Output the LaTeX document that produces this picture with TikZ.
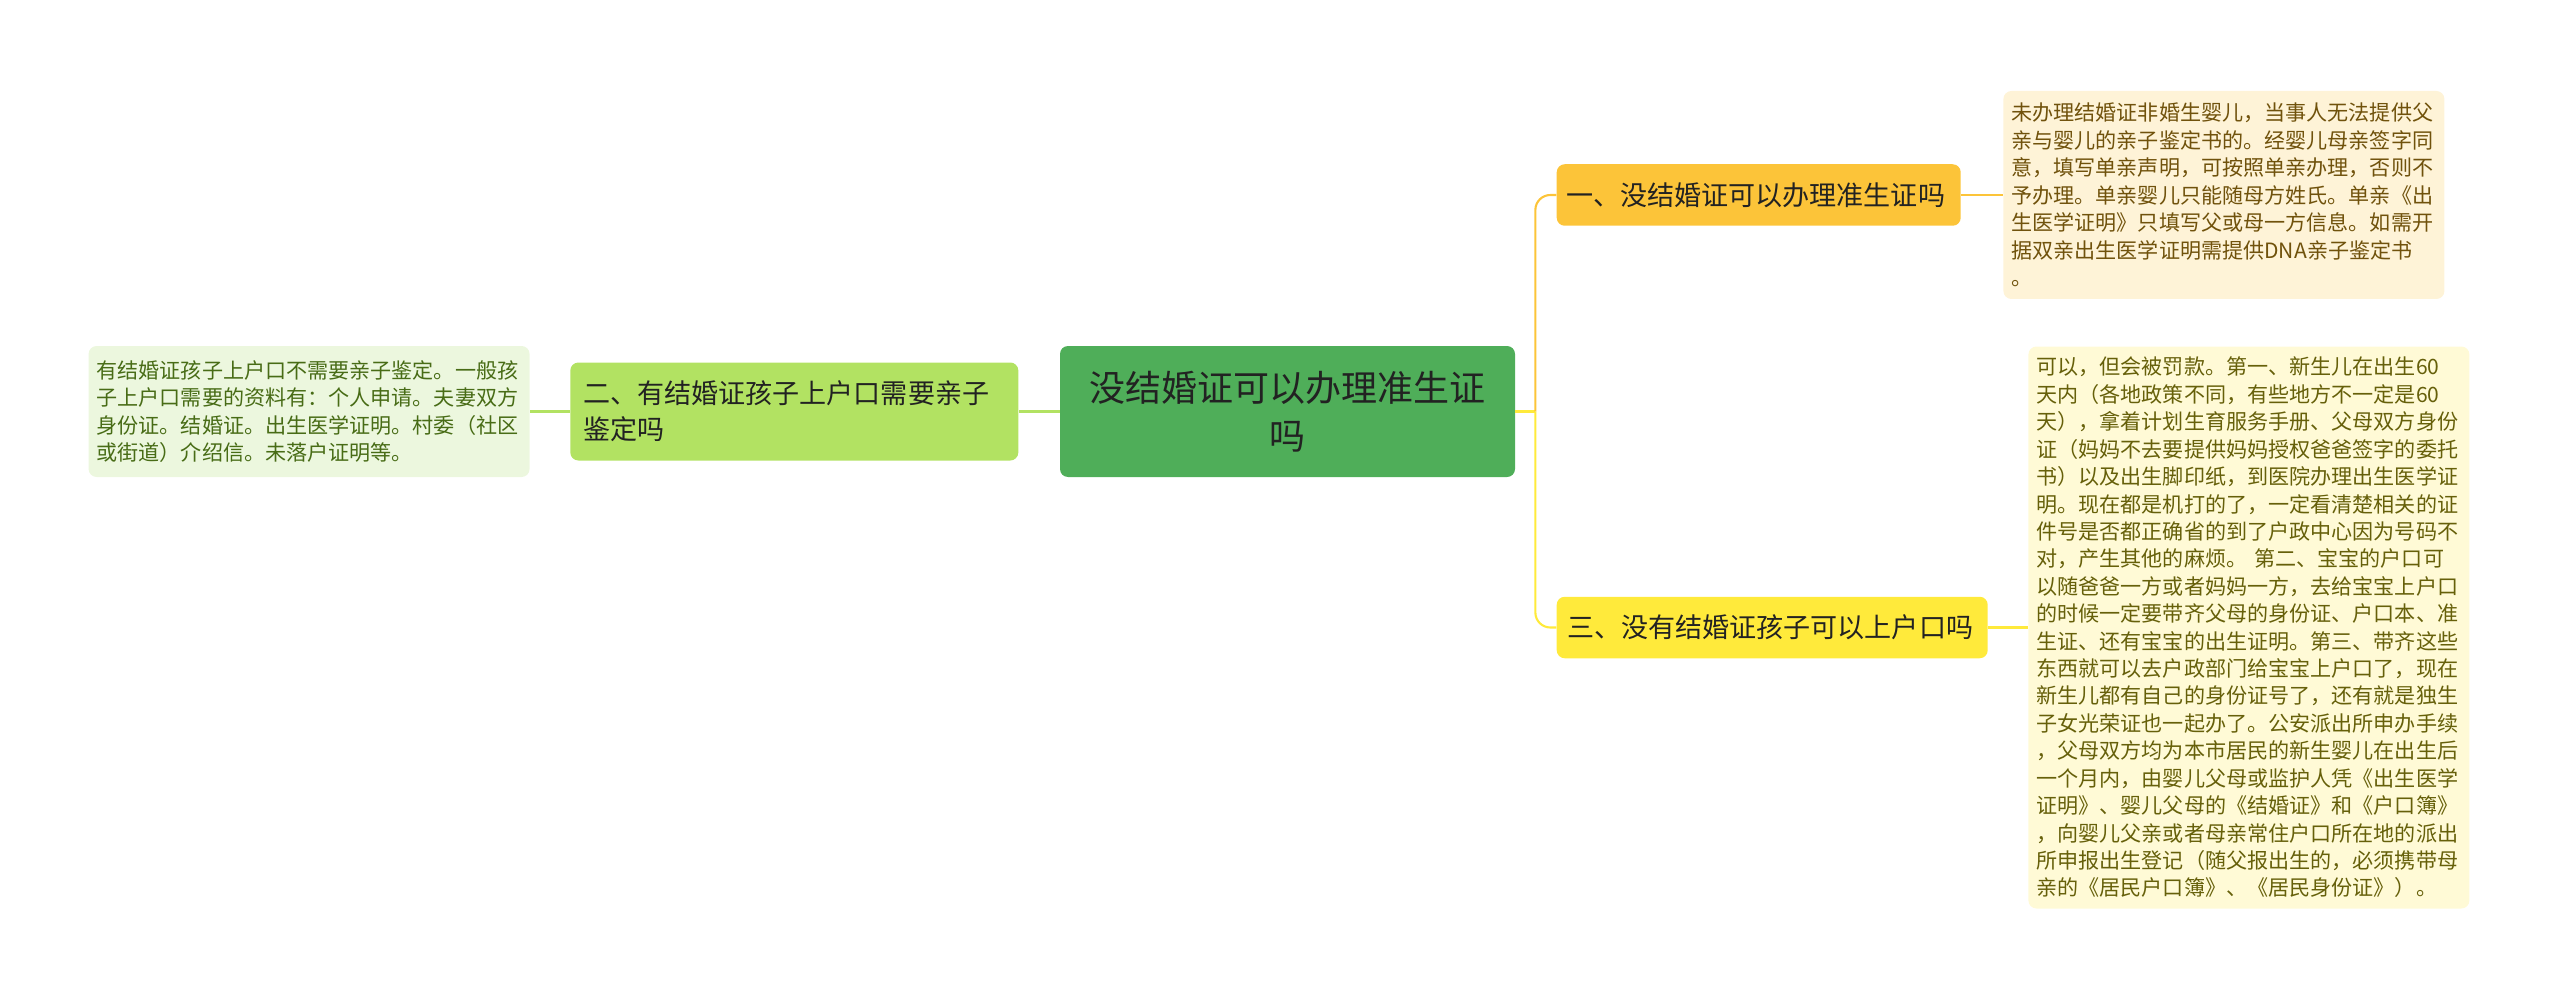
\documentclass[tikz,border=0pt]{standalone}
\usepackage{fontspec}
\setmainfont{Noto Sans CJK SC}
\usetikzlibrary{positioning}
\definecolor{rootgreen}{RGB}{79,174,89}
\definecolor{limegreen}{RGB}{178,226,98}
\definecolor{amber}{RGB}{252,196,57}
\definecolor{lemon}{RGB}{255,234,59}
\definecolor{mintbg}{RGB}{236,247,222}
\definecolor{creambg}{RGB}{254,243,215}
\definecolor{paleyellow}{RGB}{255,250,214}
\definecolor{mossText}{RGB}{72,108,22}
\definecolor{brownText}{RGB}{112,82,12}
\definecolor{oliveText}{RGB}{102,96,10}
\definecolor{darkText}{RGB}{34,34,34}

\begin{document}
\begin{tikzpicture}[
    every node/.style={rounded corners=0.16cm, inner ysep=0.1cm},
    rootbox/.style={fill=rootgreen, text=darkText, align=center, inner xsep=0.2cm, text width=8.7cm, minimum height=2.62cm, font=\fontsize{20.5}{27}\selectfont},
    branchbox/.style={align=left, text=darkText, minimum height=1.23cm, font=\fontsize{15.4}{20.5}\selectfont},
    leafbox/.style={align=left, inner xsep=0.16cm, text width=8.5cm, font=\fontsize{12}{15.6}\selectfont},
    link/.style={line width=1.2pt}
  ]
  \useasboundingbox (0,0) rectangle (51.2,-19.98);

  % centre
  \node[rootbox] (root) at (25.75,-8.23) {没结婚证可以办理准生证\\吗};

  % left side
  \node[branchbox, fill=limegreen, inner xsep=0.26cm, text width=8.44cm, minimum height=1.96cm] (b2) [left=0.82cm of root] {二、有结婚证孩子上户口需要亲子\\鉴定吗};
  \node[leafbox, fill=mintbg, text=mossText, minimum height=2.62cm] (leaf2) [left=0.8cm of b2] {有结婚证孩子上户口不需要亲子鉴定。一般孩\\子上户口需要的资料有：个人申请。夫妻双方\\身份证。结婚证。出生医学证明。村委（社区\\或街道）介绍信。未落户证明等。};

  % right side
  \node[branchbox, fill=amber, inner xsep=0.19cm, text width=7.7cm] (b1) [right=0.82cm of root, yshift=4.33cm] {一、没结婚证可以办理准生证吗};
  \node[branchbox, fill=lemon, inner xsep=0.21cm, text width=8.2cm] (b3) [right=0.82cm of root, yshift=-4.32cm] {三、没有结婚证孩子可以上户口吗};

  \node[leafbox, fill=creambg, text=brownText, minimum height=4.16cm] (leaf1) [right=0.84cm of b1] {未办理结婚证非婚生婴儿，当事人无法提供父\\亲与婴儿的亲子鉴定书的。经婴儿母亲签字同\\意，填写单亲声明，可按照单亲办理，否则不\\予办理。单亲婴儿只能随母方姓氏。单亲《出\\生医学证明》只填写父或母一方信息。如需开\\据双亲出生医学证明需提供DNA亲子鉴定书\\。};
  \node[leafbox, fill=paleyellow, text=oliveText, minimum height=11.24cm] (leaf3) [right=0.8cm of b3] {可以，但会被罚款。第一、新生儿在出生60\\天内（各地政策不同，有些地方不一定是60\\天），拿着计划生育服务手册、父母双方身份\\证（妈妈不去要提供妈妈授权爸爸签字的委托\\书）以及出生脚印纸，到医院办理出生医学证\\明。现在都是机打的了，一定看清楚相关的证\\件号是否都正确省的到了户政中心因为号码不\\对，产生其他的麻烦。 第二、宝宝的户口可\\以随爸爸一方或者妈妈一方，去给宝宝上户口\\的时候一定要带齐父母的身份证、户口本、准\\生证、还有宝宝的出生证明。第三、带齐这些\\东西就可以去户政部门给宝宝上户口了，现在\\新生儿都有自己的身份证号了，还有就是独生\\子女光荣证也一起办了。公安派出所申办手续\\，父母双方均为本市居民的新生婴儿在出生后\\一个月内，由婴儿父母或监护人凭《出生医学\\证明》、婴儿父母的《结婚证》和《户口簿》\\，向婴儿父亲或者母亲常住户口所在地的派出\\所申报出生登记（随父报出生的，必须携带母\\亲的《居民户口簿》、《居民身份证》）。};

  % connectors
  \coordinate (fork) at ([xshift=0.4cm]root.east);
  \draw[link, lemon] (root.east) -- (fork);
  \draw[link, amber, rounded corners=0.3cm] (fork) |- (b1.west);
  \draw[link, lemon, rounded corners=0.3cm] (fork) |- (b3.west);
  \draw[link, amber] (b1.east) -- (leaf1.west);
  \draw[link, lemon] (b3.east) -- (leaf3.west);
  \draw[link, limegreen] (root.west) -- (b2.east);
  \draw[link, limegreen] (b2.west) -- (leaf2.east);
\end{tikzpicture}
\end{document}
